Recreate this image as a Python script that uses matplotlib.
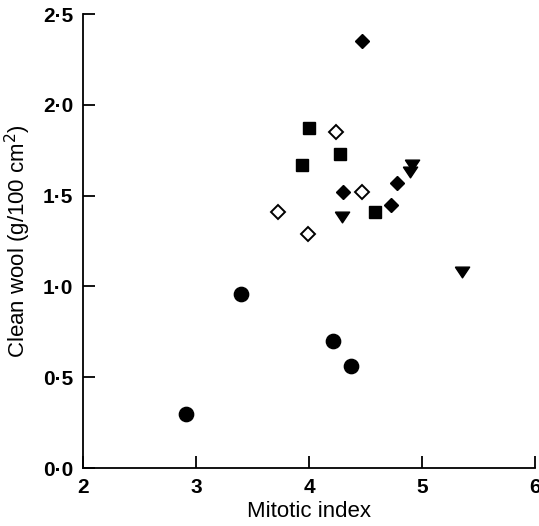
import matplotlib
matplotlib.use("Agg")
import matplotlib.pyplot as plt
from matplotlib.ticker import FuncFormatter

plt.rcParams["font.family"] = ["Liberation Sans", "DejaVu Sans"]

# mitotic index vs clean wool, five groups
circle_x = [2.91, 3.40, 4.21, 4.37]
circle_y = [0.30, 0.96, 0.70, 0.56]
square_x = [4.00, 4.27, 3.94, 4.58]
square_y = [1.87, 1.73, 1.67, 1.41]
diamond_x = [4.47, 4.30, 4.78, 4.73]
diamond_y = [2.35, 1.52, 1.57, 1.45]
open_diamond_x = [4.24, 4.47, 3.73, 3.99]
open_diamond_y = [1.85, 1.52, 1.41, 1.29]
triangle_x = [4.91, 4.89, 4.29, 5.35]
triangle_y = [1.67, 1.63, 1.38, 1.08]

x_ticks = [2, 3, 4, 5, 6]
y_ticks = [0.0, 0.5, 1.0, 1.5, 2.0, 2.5]

# flattened downward triangle
tri = [(-1, 0.75), (1, 0.75), (0, -0.75), (-1, 0.75)]

fig = plt.figure(figsize=(5.39, 5.26), dpi=100)
ax = fig.add_axes([83 / 539, 58 / 526, 452 / 539, 454 / 526])

kw = dict(linestyle="none", color="black", clip_on=False)
ax.plot(circle_x, circle_y, marker="o", markersize=10.3, **kw)
ax.plot(square_x, square_y, marker="s", markersize=9.2, **kw)
ax.plot(diamond_x, diamond_y, marker="D", markersize=7.0, **kw)
ax.plot(open_diamond_x, open_diamond_y, marker="D", markersize=6.8,
        markerfacecolor="white", markeredgewidth=1.4, **kw)
ax.plot(triangle_x, triangle_y, marker=tri, markersize=10.3, **kw)

ax.set_xlim(2, 6)
ax.set_ylim(0, 2.5)
ax.set_xticks(x_ticks)
ax.set_yticks(y_ticks)
ax.yaxis.set_major_formatter(FuncFormatter(lambda v, p: f"{v:.1f}".replace(".", "\u00b7")))

for side in ("top", "right"):
    ax.spines[side].set_visible(False)
for side in ("left", "bottom"):
    ax.spines[side].set_linewidth(1.3)

ax.tick_params(direction="in", length=8.5, width=1.3, labelsize=15, pad=7)
for lab in ax.get_xticklabels() + ax.get_yticklabels():
    lab.set_fontweight("bold")

ax.set_xlabel("Mitotic index", fontsize=16, labelpad=3)
ax.set_ylabel("Clean wool (g/100 cm$^2$)", fontsize=16, labelpad=7)

fig.savefig("out.png", dpi=100)
